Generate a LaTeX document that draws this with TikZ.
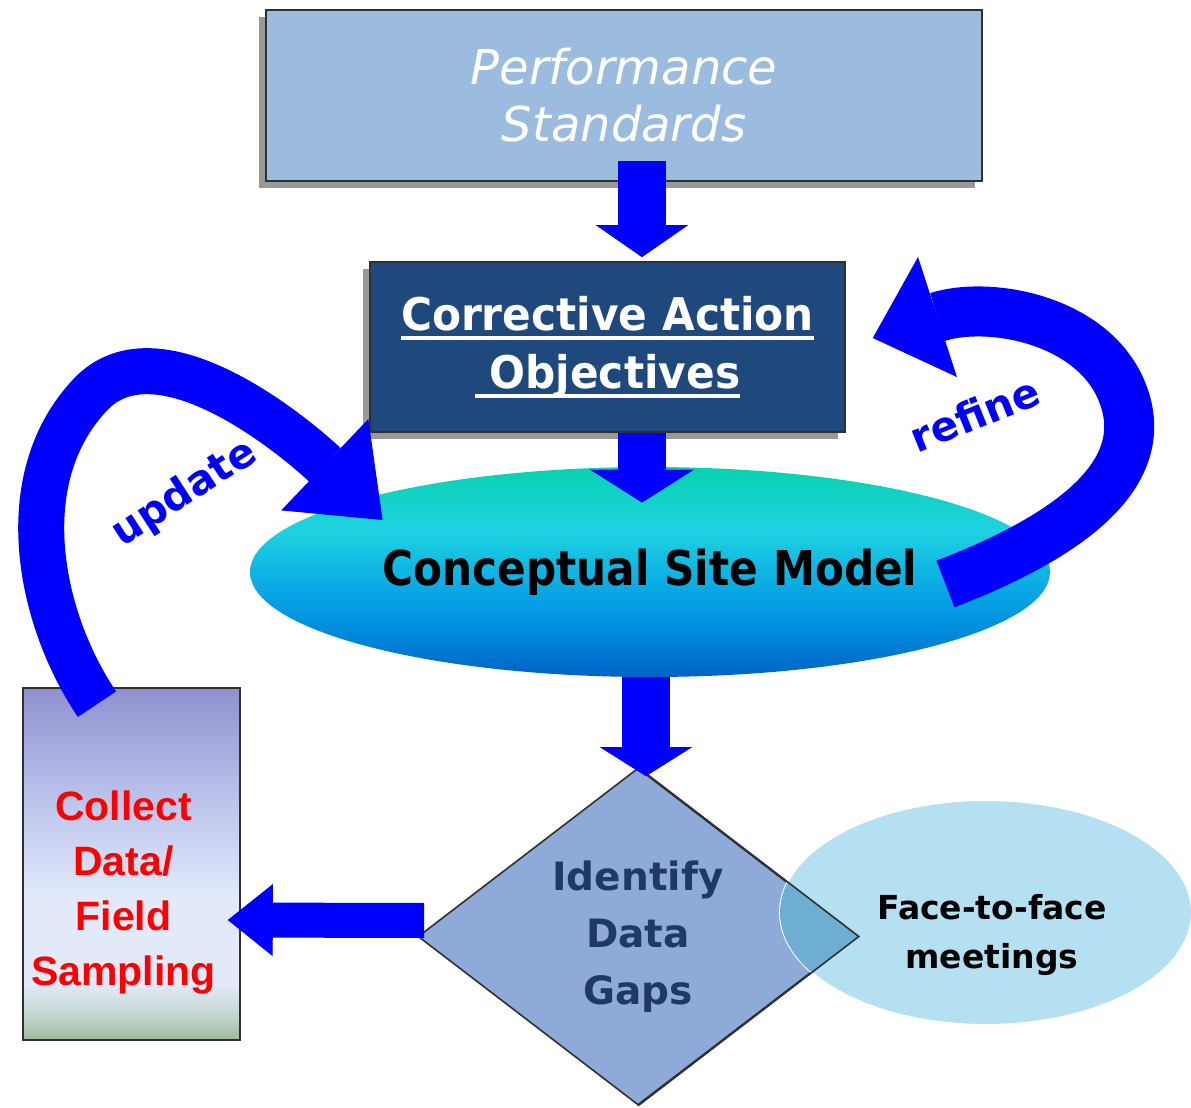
\documentclass[tikz,border=0pt]{standalone}
\usepackage{fontspec}
\usetikzlibrary{arrows.meta,shapes.geometric,shadows}
\newfontfamily\dejavu{DejaVu Sans}
\newfontfamily\dejacao[FakeStretch=0.94]{DejaVu Sans}
\newfontfamily\dejacsm[FakeStretch=0.88]{DejaVu Sans}
\newfontfamily\arialfont{Liberation Sans}
\newsavebox\ulbox
\newcommand{\boxul}[1]{\sbox\ulbox{#1}\rlap{\rule[-5pt]{\wd\ulbox}{2pt}}\usebox\ulbox}
\definecolor{psblue}{HTML}{9BBBDF}
\definecolor{caonavy}{HTML}{1F497D}
\definecolor{arrowblue}{HTML}{0000FF}
\definecolor{gapblue}{HTML}{8EAAD8}
\definecolor{gapnavy}{HTML}{1F3864}
\definecolor{facecyan}{HTML}{B4E0F1}
\definecolor{overlapblue}{HTML}{6EAED2}
\definecolor{boxline}{HTML}{303030}
\definecolor{csmA}{HTML}{08D2B0}
\definecolor{csmB}{HTML}{1ED2E0}
\definecolor{csmC}{HTML}{08A6E4}
\definecolor{csmD}{HTML}{0088DC}
\definecolor{csmE}{HTML}{0062C6}
\definecolor{colA}{HTML}{9090D0}
\definecolor{colB}{HTML}{BCC4EC}
\definecolor{colC}{HTML}{E2EAFA}
\definecolor{colD}{HTML}{C8D8D4}
\definecolor{colE}{HTML}{A0BAA0}
\pgfdeclareverticalshading{csmshade}{100bp}{color(0bp)=(csmE); color(25bp)=(csmE);
  color(35bp)=(csmD); color(45bp)=(csmC); color(60bp)=(csmB); color(75bp)=(csmA); color(100bp)=(csmA)}
\pgfdeclareverticalshading{collectshade}{100bp}{color(0bp)=(colE); color(25bp)=(colE);
  color(29bp)=(colD); color(33bp)=(colC); color(45bp)=(colC); color(59bp)=(colB); color(75bp)=(colA); color(100bp)=(colA)}

\begin{document}
\begin{tikzpicture}[x=0.5pt, y=-0.5pt,
    box/.style={draw=boxline, line width=0.8pt, inner sep=0pt, align=center},
    boxshadow/.style={drop shadow={shadow xshift=-3.5pt, shadow yshift=-3.5pt, fill=black!40, opacity=1}},
    blockarrow/.style={draw=arrowblue, line width=24pt},
    bendarrow/.style={draw=arrowblue, line width=23pt}]
    \useasboundingbox (0,0) rectangle (1191,1108);
    % boxes and ellipse
    \node[box, boxshadow, fill=psblue, minimum width=358pt, minimum height=85.5pt, text=white,
        font=\dejavu\itshape\fontsize{24}{28.5}\selectfont] (ps) at (624,95.5) {Performance\\Standards};
    \node[box, boxshadow, fill=caonavy, minimum width=237.5pt, minimum height=85pt, text=white,
        font=\dejacao\bfseries\fontsize{22.5}{29}\selectfont] (cao) at (607.5,347) {\boxul{Corrective Action}\\\boxul{\ Objectives}};
    \node[ellipse, shading=csmshade, minimum width=400pt, minimum height=105pt, inner sep=0pt,
        font=\dejacsm\bfseries\fontsize{24}{29}\selectfont] (csm) at (650,572) {Conceptual Site Model};
    \node[box, shading=collectshade, minimum width=108.5pt, minimum height=176pt] (collect) at (131.5,864) {};
    \node[text=red, align=center, font=\arialfont\bfseries\fontsize{20.5}{27.5}\selectfont]
        (collecttxt) at ([xshift=-4pt, yshift=-14pt]collect.center) {Collect\\Data/\\Field\\Sampling};
    % diamond and meetings
    \node[diamond, draw=boxline, line width=0.8pt, fill=gapblue, aspect=1.3, inner sep=0pt,
        minimum width=220pt, minimum height=168.5pt, text=gapnavy, align=center,
        font=\dejavu\bfseries\fontsize{19.5}{28.5}\selectfont] (gaps) at (638,936.5) {Identify\\Data\\Gaps};
    \node[ellipse, fill=facecyan, draw=white, line width=1pt, minimum width=206pt, minimum height=112.5pt] (face) at (986,912.5) {};
    \begin{scope}
        \clip (gaps.north) -- (gaps.east) -- (gaps.south) -- (gaps.west) -- cycle;
        \fill[overlapblue] (face.center) ellipse [x radius=206, y radius=112.5];
    \end{scope}
    \draw[boxline, line width=0.8pt] (gaps.north) -- (gaps.east) -- (gaps.south);
    \node[align=center, font=\dejavu\bfseries\fontsize{16.5}{24.5}\selectfont]
        (facetxt) at ([xshift=3pt, yshift=-11.5pt]face.center) {Face-to-face\\meetings};
    % straight arrows
    \draw[blockarrow, -{Triangle[width=46pt, length=16pt, line width=0.5pt]}]
        ([xshift=9pt, yshift=10.5pt]ps.south) -- ([xshift=17.25pt, yshift=2pt]cao.north);
    \draw[blockarrow, -{Triangle[width=52pt, length=16.5pt, line width=0.5pt]}]
        ([xshift=17.25pt]cao.south) -- ([xshift=-4pt, yshift=-18pt]csm.north);
    \draw[blockarrow, -{Triangle[width=46pt, length=14.5pt, line width=0.5pt]}]
        ([xshift=-2pt]csm.south) -- ([xshift=4pt, yshift=-4.5pt]gaps.north);
    \draw[blockarrow, line width=17.5pt, -{Triangle[width=36pt, length=22.5pt, line width=0.5pt]}]
        ([xshift=3.5pt, yshift=8pt]gaps.west) -- ([xshift=-6.5pt, yshift=-28pt]collect.east);
    % update and refine
    \draw[bendarrow, -{Triangle[width=63pt, length=40pt, line width=0.5pt]}]
        ([xshift=-17.25pt, yshift=-8.5pt]collect.north) .. controls (40,620) and (10,480) .. (90,395)
        .. controls (160,320) and (303,444) .. ([xshift=66.5pt, yshift=26pt]csm.west);
    \draw[bendarrow, line width=25pt, -{Triangle[width=63pt, length=34pt, line width=0.5pt]}]
        ([xshift=-52.5pt, yshift=-6pt]csm.east) .. controls (1060,540) and (1150,480) .. (1125,400)
        .. controls (1100,320) and (990,300) .. ([xshift=13.5pt, yshift=4.5pt]cao.east);
    \node[text=arrowblue, rotate=33, font=\dejavu\bfseries\fontsize{20.5}{24}\selectfont] (upd) at (185,494) {update};
    \node[text=arrowblue, rotate=22, font=\dejavu\bfseries\fontsize{20.5}{24}\selectfont] (ref) at (975,414) {refine};
\end{tikzpicture}
\end{document}
